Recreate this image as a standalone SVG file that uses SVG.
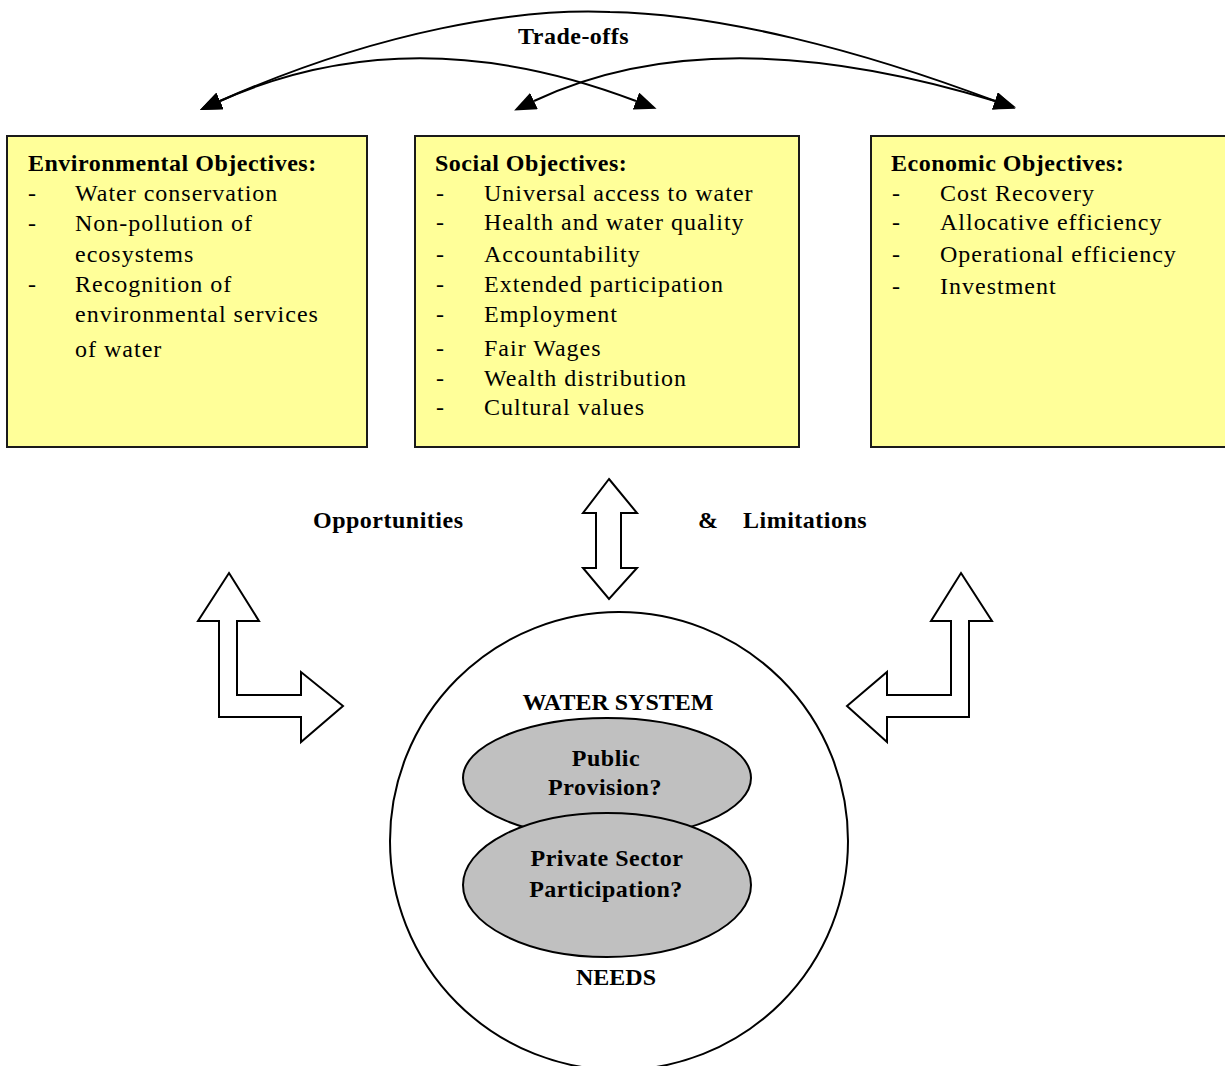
<svg xmlns="http://www.w3.org/2000/svg" width="1225" height="1066" viewBox="0 0 1225 1066">
<defs>
<style>
text{font-family:"Liberation Serif","Times New Roman",serif;fill:#000}
.b{font-weight:bold;font-size:24px;letter-spacing:0.5px}
.r{font-size:24px;letter-spacing:1px}
.c{text-anchor:middle}
.box{fill:#FFFF99;stroke:#1a1a1a;stroke-width:2}
.ell{fill:#C0C0C0;stroke:#000;stroke-width:2}
.curve{fill:none;stroke:#000;stroke-width:2}
.blk{fill:#fff;stroke:#000;stroke-width:2;stroke-linejoin:miter}
</style>
<marker id="ah" markerUnits="userSpaceOnUse" markerWidth="22" markerHeight="18" viewBox="0 0 22 18" refX="0" refY="9" orient="auto-start-reverse">
<path d="M0,0 L22,9 L0,18 z" fill="#000"/>
</marker>
</defs>
<rect width="1225" height="1066" fill="#fff"/>

<g id="connectors">
<path class="curve" d="M220,101 C380,30 520,8 610,12 C720,14 860,50 995,101" marker-start="url(#ah)" marker-end="url(#ah)"/>
<path class="curve" d="M220,101 Q412,15.5 636,101" marker-start="url(#ah)" marker-end="url(#ah)"/>
<path class="curve" d="M534,101 Q715,15.5 995,101" marker-start="url(#ah)" marker-end="url(#ah)"/>
<polygon class="blk" points="609,479 637,513 621,513 621,568 637,568 609,599 583,568 596,568 596,513 583,513"/>
<polygon class="blk" points="229,573 259,621 237,621 237,695 301,695 301,672 343,706 301,742 301,717 219,717 219,621 198,621"/>
<polygon class="blk" points="961,573 992,621 969,621 969,717 887,717 887,742 847,706 887,672 887,695 951,695 951,621 931,621"/>
</g>

<g id="label-tradeoffs"><text class="b" x="518" y="44">Trade-offs</text></g>
<g id="label-opportunities"><text class="b" x="313" y="528">Opportunities</text></g>
<g id="label-limitations"><text class="b" x="698" y="528">&amp;</text><text class="b" x="743" y="528">Limitations</text></g>

<g id="env">
<rect class="box" x="7" y="136" width="360" height="311"/>
<text class="b" x="28" y="171">Environmental Objectives:</text>
<text class="r" x="28" y="201">-</text><text class="r" x="75" y="201">Water conservation</text>
<text class="r" x="28" y="231">-</text><text class="r" x="75" y="231">Non-pollution of</text>
<text class="r" x="75" y="262">ecosystems</text>
<text class="r" x="28" y="292">-</text><text class="r" x="75" y="292">Recognition of</text>
<text class="r" x="75" y="322">environmental services</text>
<text class="r" x="75" y="357">of water</text>
</g>

<g id="social">
<rect class="box" x="415" y="136" width="384" height="311"/>
<text class="b" x="435" y="171">Social Objectives:</text>
<text class="r" x="436" y="201">-</text><text class="r" x="484" y="201">Universal access to water</text>
<text class="r" x="436" y="230">-</text><text class="r" x="484" y="230">Health and water quality</text>
<text class="r" x="436" y="262">-</text><text class="r" x="484" y="262">Accountability</text>
<text class="r" x="436" y="292">-</text><text class="r" x="484" y="292">Extended participation</text>
<text class="r" x="436" y="322">-</text><text class="r" x="484" y="322">Employment</text>
<text class="r" x="436" y="356">-</text><text class="r" x="484" y="356">Fair Wages</text>
<text class="r" x="436" y="386">-</text><text class="r" x="484" y="386">Wealth distribution</text>
<text class="r" x="436" y="415">-</text><text class="r" x="484" y="415">Cultural values</text>
</g>

<g id="econ">
<rect class="box" x="871" y="136" width="362" height="311"/>
<text class="b" x="891" y="171">Economic Objectives:</text>
<text class="r" x="892" y="201">-</text><text class="r" x="940" y="201">Cost Recovery</text>
<text class="r" x="892" y="230">-</text><text class="r" x="940" y="230">Allocative efficiency</text>
<text class="r" x="892" y="262">-</text><text class="r" x="940" y="262">Operational efficiency</text>
<text class="r" x="892" y="294">-</text><text class="r" x="940" y="294">Investment</text>
</g>

<g id="water-system">
<circle cx="619" cy="841" r="229" fill="#fff" stroke="#000" stroke-width="2"/>
<text class="b c" x="618" y="710" style="letter-spacing:0">WATER SYSTEM</text>
<text class="b c" x="616" y="985" style="letter-spacing:0">NEEDS</text>
</g>

<g id="public">
<ellipse class="ell" cx="607" cy="778" rx="144" ry="60"/>
<text class="b c" x="606" y="766">Public</text>
<text class="b c" x="605" y="795">Provision?</text>
</g>

<g id="private">
<ellipse class="ell" cx="607" cy="885" rx="144" ry="72"/>
<text class="b c" x="607" y="866">Private Sector</text>
<text class="b c" x="606" y="897">Participation?</text>
</g>
</svg>
